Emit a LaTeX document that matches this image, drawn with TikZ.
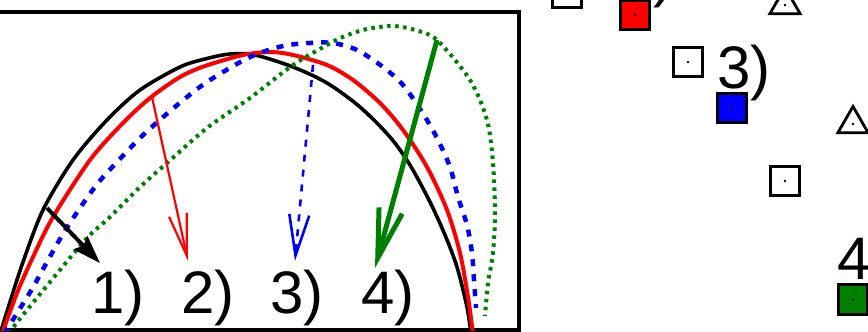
\documentclass[tikz,border=0pt]{standalone}
\usepackage{fontspec}
\setmainfont{Liberation Sans}
\usetikzlibrary{arrows.meta,shapes.geometric}
\definecolor{gpgreen}{RGB}{0,128,0}
\begin{document}
\begin{tikzpicture}[x=1pt,y=-1pt,
  sq/.style={rectangle,draw=black,line width=2.8pt,minimum size=29.5pt,inner sep=0pt},
  tri/.style={regular polygon,regular polygon sides=3,draw=black,line width=2.8pt,minimum size=35pt,inner sep=0pt},
  lbl/.style={anchor=base west,inner sep=0pt,font=\fontsize{60}{72}\selectfont},
  cblack/.style={line width=3.6pt,black},
  cred/.style={line width=4pt,red},
  cblue/.style={line width=4.5pt,blue,dash pattern=on 7pt off 8pt},
  cgreen/.style={line width=4pt,gpgreen,dash pattern=on 3.5pt off 4.5pt}
]
\useasboundingbox (0,0) rectangle (868,332);
\clip (0,0) rectangle (868,332);

% frame
\draw[line width=3.2pt] (-3,12) rectangle (519,330);

\begin{scope}
\clip (0,12) rectangle (519,330);
\draw[cblack] plot[smooth,tension=0.5] coordinates {(0,334) (10,302) (23,262) (43,210) (73,160) (107,120) (140,90) (180,67) (205,59) (230,54) (255,55) (293,67) (327,83) (360,107) (390,137) (410,165) (430,202) (445,235) (457,267) (467,307) (471,334)};
\draw[cred] plot[smooth,tension=0.5] coordinates {(2,334) (17,293) (33,257) (53,217) (90,160) (123,123) (150,98) (180,77) (205,66) (243,55) (270,52) (293,55) (327,65) (353,80) (380,103) (403,130) (427,167) (447,210) (460,253) (468,297) (473,334)};
\draw[cblue] plot[smooth,tension=0.5] coordinates {(4,334) (14,318) (32,289) (47,262) (63,234) (80,208) (98,183) (118,161) (140,138) (162,118) (187,97) (210,80) (250,57) (283,46) (310,43) (333,43) (357,50) (383,67) (403,85) (422,112) (437,138) (450,167) (458,197) (467,225) (472,253) (474,280) (476,308)};
\draw[cgreen] plot[smooth,tension=0.5] coordinates {(10,334) (15,325) (50,282) (87,238) (110,217) (140,187) (167,163) (207,128) (250,98) (293,65) (327,45) (345,36) (367,29) (393,26) (415,30) (437,40) (470,80) (487,120) (493,163) (495,213) (493,253) (488,283) (485,316)};
\end{scope}

% arrows
\coordinate (a1s) at (47,208); \coordinate (a1e) at (100,263);
\coordinate (a2s) at (152,97); \coordinate (a2e) at (188,261);
\coordinate (a3s) at (313,65); \coordinate (a3e) at (295,261);
\coordinate (a4s) at (437,40); \coordinate (a4e) at (375,268);
\draw[line width=4pt,black,-{Stealth[length=28pt,width=19pt,inset=4pt]}] (a1s) -- (a1e);
\draw[line width=2.2pt,red,-{Straight Barb[length=42pt,width=18pt]}] (a2s) -- (a2e);
\draw[line width=2.6pt,blue,dash pattern=on 7pt off 8pt,-{Straight Barb[length=41pt,width=20pt]}] (a3s) -- (a3e);
\draw[line width=5pt,gpgreen,-{Straight Barb[length=49pt,width=24pt]}] (a4s) -- (a4e);

% labels in the frame
\node[lbl] (l1) at (91,313) {1)};
\node[lbl] (l2) at (181,313) {2)};
\node[lbl] (l3) at (270,313) {3)};
\node[lbl] (l4) at (361,313) {4)};

% right-hand markers
\node[sq] (s1) at (567,-7) {};
\node[sq,fill=red] (f2) at (635,15) {};
\node[lbl] (r2) at (620,-5) {2)};
\node[tri] (t1) at (785,5) {};
\node[sq] (s2) at (688,62) {};
\node[lbl] (r3) at (717,88) {3)};
\node[sq,fill=blue] (f3) at (732,108) {};
\node[tri] (t2) at (853,124) {};
\node[sq] (s3) at (785,181) {};
\node[lbl] (r4) at (837,279) {4)};
\node[sq,fill=gpgreen] (f4) at (853,299.5) {};
\foreach \n in {s1,f2,t1,s2,f3,t2,s3,f4} \fill[black] (\n.center) circle (1.3);
\end{tikzpicture}
\end{document}
